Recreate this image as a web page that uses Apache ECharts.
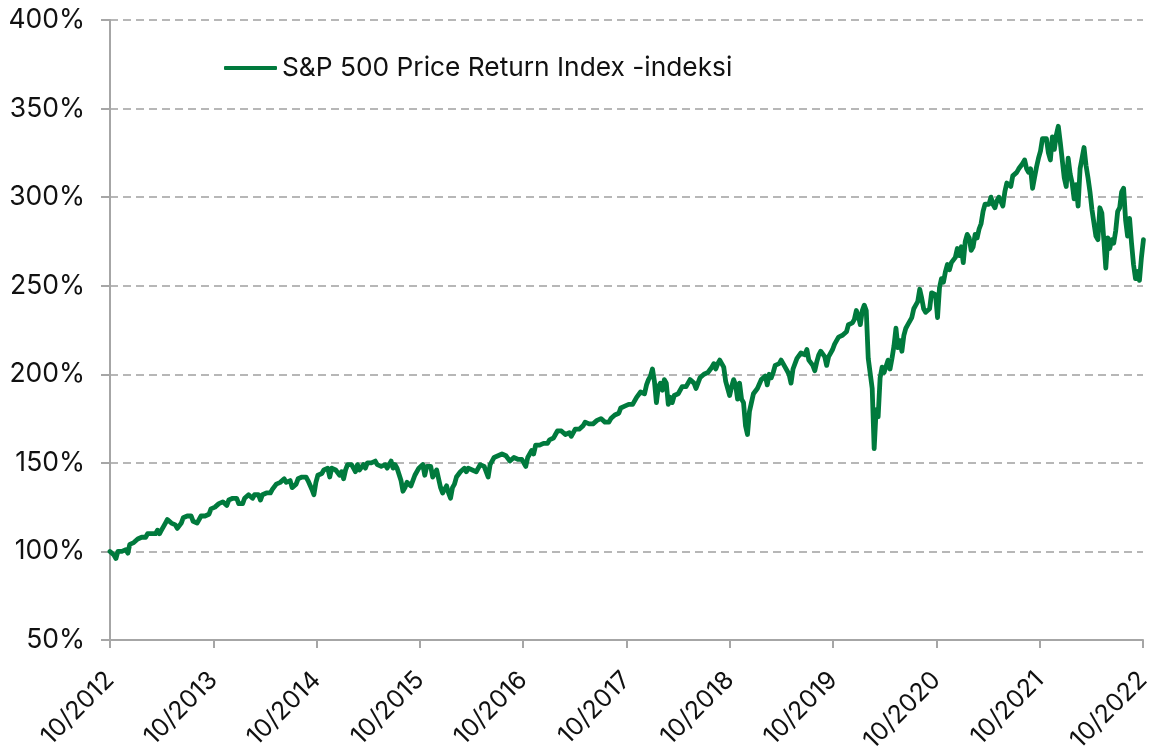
<!DOCTYPE html>
<html>
<head>
<meta charset="utf-8">
<script src="https://cdn.jsdelivr.net/npm/echarts@6/dist/echarts.min.js"></script>
<style>
  html, body { margin: 0; padding: 0; background: #fff; }
  #chart { width: 1150px; height: 754px; }
</style>
</head>
<body>
<div id="chart"></div>
<script>
// Weekly closes (Friday), indexed to 100% at 26 Oct 2012. Each segment starts at the given date.
const seriesName = 'S&P 500 Price Return Index -indeksi';
const segmentStarts = ['2012-10-26', '2013-01-04', '2014-01-03', '2015-01-02', '2016-01-08',
  '2017-01-06', '2018-01-05', '2019-01-04', '2020-01-03', '2021-01-08', '2022-01-07'];
const values2012 = [100, 100, 98, 96, 100, 100, 100, 100, 101, 99];
const values2013 = [104, 104, 105, 106, 107, 108, 108, 107, 108, 110, 111, 110, 111,
  110, 112, 110, 112, 114, 116, 118, 117, 116, 116, 115, 113, 114, 116, 119, 120, 120,
  121, 120, 117, 118, 116, 117, 120, 121, 120, 120, 121, 124, 125, 125, 125, 127, 128, 128,
  128, 126, 129, 130];
const values2014 = [130, 130, 130, 127, 126, 127, 130, 130, 132, 133, 130, 132, 132,
  132, 129, 132, 132, 133, 133, 133, 135, 136, 138, 137, 139, 139, 141, 139, 140, 140,
  136, 137, 138, 141, 142, 142, 141, 142, 140, 139, 135, 132, 139, 143, 144, 144, 146, 146,
  147, 142, 147, 148];
const values2015 = [146, 145, 143, 145, 141, 146, 149, 149, 149, 147, 145, 149, 146,
  146, 149, 147, 150, 149, 150, 150, 151, 149, 148, 148, 149, 149, 147, 147, 151, 147, 149,
  147, 148, 140, 134, 136, 139, 139, 137, 138, 143, 144, 147, 147, 149, 143, 148, 148,
  148, 142, 142, 146, 145];
const values2016 = [136, 133, 135, 137, 133, 130, 136, 138, 142, 143, 145, 144,
  147, 145, 147, 148, 146, 146, 145, 145, 149, 149, 148, 147, 142, 149, 151, 153, 154, 154,
  155, 155, 155, 154, 154, 151, 151, 153, 154, 152, 151, 152, 151, 148, 153, 155, 157,
  155, 160, 160, 160, 159];
const values2017 = [161, 161, 161, 163, 163, 164, 166, 168, 169, 168, 168, 166, 167,
  167, 165, 166, 169, 170, 169, 169, 171, 173, 172, 172, 173, 172, 172, 174, 175, 175,
  175, 173, 172, 173, 175, 174, 177, 177, 178, 181, 181, 182, 183, 183, 183, 183, 184,
  187, 188, 190, 190, 189];
const values2018 = [194, 197, 199, 203, 196, 184, 193, 195, 191, 197, 195, 183, 187,
  184, 188, 189, 189, 189, 193, 192, 193, 194, 197, 197, 195, 192, 195, 198, 198, 200,
  201, 201, 202, 204, 206, 203, 206, 208, 206, 204, 196, 196, 188, 193, 197, 194, 186, 195,
  186, 184, 171, 166];
const values2019 = [179, 184, 189, 189, 192, 192, 197, 198, 199, 194, 200, 198, 201,
  205, 206, 206, 208, 209, 204, 203, 200, 195, 203, 204, 209, 208, 212, 213, 211, 214,
  208, 207, 205, 202, 207, 211, 213, 212, 210, 205, 210, 211, 214, 217, 219, 221, 220, 222,
  223, 224, 228, 229];
const values2020 = [229, 231, 236, 233, 228, 236, 239, 236, 209, 210, 192, 158, 180,
  176, 198, 204, 201, 200, 208, 203, 209, 216, 226, 215, 219, 213, 222, 226, 228, 228, 232,
  237, 239, 241, 248, 243, 237, 235, 234, 237, 246, 247, 245, 232, 249, 254, 252, 258,
  262, 259, 263, 262, 266];
const values2021 = [271, 267, 272, 263, 275, 279, 277, 270, 272, 279, 277, 282,
  285, 292, 296, 296, 296, 300, 296, 294, 298, 300, 301, 295, 303, 308, 309, 306, 312, 311,
  314, 316, 315, 319, 321, 316, 314, 316, 305, 311, 317, 322, 326, 333, 332, 333, 325,
  321, 334, 327, 335, 340];
const values2022 = [331, 330, 311, 306, 322, 313, 308, 299, 307, 295, 316, 322,
  328, 318, 311, 303, 293, 292, 278, 276, 294, 291, 276, 260, 277, 271, 276, 274, 281, 292,
  294, 303, 305, 287, 278, 288, 274, 262, 254, 258, 253, 266, 276];
const segments = [values2012, values2013, values2014, values2015, values2016, values2017,
  values2018, values2019, values2020, values2021, values2022];

// x axis ticks: every 12 months from 10/2012
const tickLabels = ['10/2012', '10/2013', '10/2014', '10/2015', '10/2016', '10/2017',
  '10/2018', '10/2019', '10/2020', '10/2021', '10/2022'];

function toUTC(s) { const p = s.split('-').map(Number); return Date.UTC(p[0], p[1] - 1, p[2]); }
const base = toUTC(segmentStarts[0]);
const DAY = 86400000, MONTH_DAYS = 30.4375;
const data = [];
segments.forEach((vals, si) => {
  const s = toUTC(segmentStarts[si]);
  vals.forEach((v, i) => {
    const months = (s + i * 7 * DAY - base) / DAY / MONTH_DAYS;
    data.push([months, v]);
  });
});

const FONT = 'Inter, "Liberation Sans", Arial, sans-serif';
const chart = echarts.init(document.getElementById('chart'), null, { renderer: 'canvas' });
chart.setOption({
  animation: false,
  backgroundColor: '#ffffff',
  textStyle: { fontFamily: FONT },
  grid: { left: 110, right: 7, top: 20, bottom: 114, containLabel: false, outerBoundsMode: 'none' },
  legend: {
    show: true,
    left: 219,
    top: 50,
    icon: 'roundRect',
    itemWidth: 53,
    itemHeight: 4,
    itemGap: 10,
    textStyle: { fontSize: 26.3, color: '#111', fontFamily: FONT },
    data: [seriesName]
  },
  xAxis: {
    type: 'value',
    min: 0,
    max: 120,
    interval: 12,
    axisLine: { show: true, lineStyle: { color: '#a6a6a6', width: 2 } },
    axisTick: { show: true, length: 8, lineStyle: { color: '#a6a6a6', width: 2 } },
    splitLine: { show: false },
    axisLabel: {
      rotate: 45,
      margin: 36,
      fontSize: 25,
      color: '#111',
      fontFamily: FONT,
      formatter: (v) => tickLabels[Math.round(v / 12)] || ''
    }
  },
  yAxis: {
    type: 'value',
    min: 50,
    max: 400,
    interval: 50,
    axisLine: { show: true, lineStyle: { color: '#a6a6a6', width: 2 } },
    axisTick: { show: true, length: 9, lineStyle: { color: '#a6a6a6', width: 2 } },
    splitLine: { show: true, lineStyle: { color: '#a0a0a0', width: 1.5, type: [8, 5] } },
    axisLabel: {
      margin: 25,
      fontSize: 26.5,
      color: '#111',
      fontFamily: FONT,
      formatter: '{value}%'
    }
  },
  series: [{
    name: seriesName,
    type: 'line',
    data: data,
    showSymbol: false,
    symbol: 'none',
    smooth: false,
    clip: true,
    color: '#007a3d',
    lineStyle: { color: '#007a3d', width: 4.8, join: 'round', cap: 'round' }
  }]
});
</script>
</body>
</html>
